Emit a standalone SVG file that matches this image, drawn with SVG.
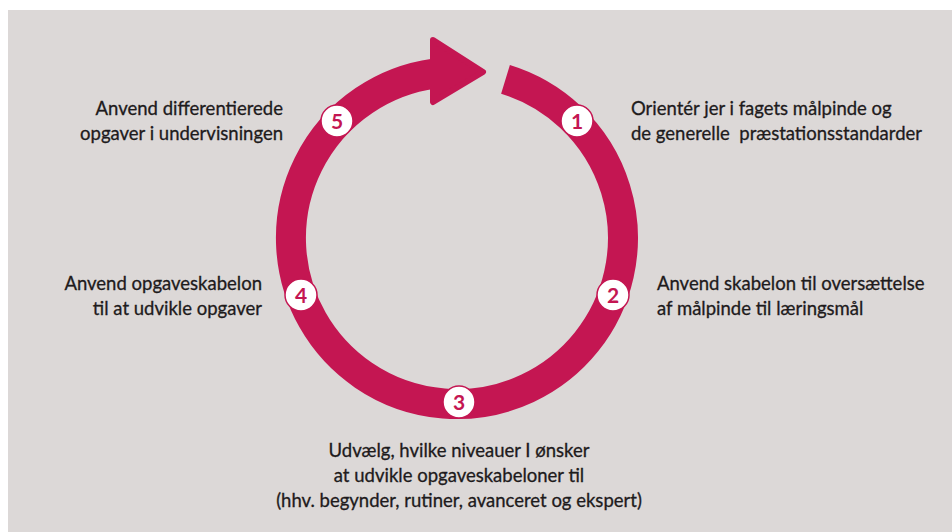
<svg xmlns="http://www.w3.org/2000/svg" width="952" height="532" viewBox="0 0 952 532">
<style>
.lbl{font-family:Lato,"Open Sans","Liberation Sans",sans-serif;font-size:18.5px;fill:#1e1b1c;stroke:#1e1b1c;stroke-width:0.3}
.num{font-family:Lato,"Open Sans","Liberation Sans",sans-serif;font-size:21px;font-weight:bold;fill:#c41652;text-anchor:middle}
.dot{fill:#ffffff;stroke:#c41652;stroke-width:1.5}
</style>
<rect x="0" y="0" width="952" height="532" fill="#ffffff"/>
<rect x="8" y="10" width="944" height="522" fill="#dcd8d7"/>
<g id="connectors">
<path d="M 505.5 79.3 A 166 166 0 1 1 434.2 73.6" fill="none" stroke="#c41652" stroke-width="30"/>
<polygon points="433,40 483,72 433,102" fill="#c41652" stroke="#c41652" stroke-width="6" stroke-linejoin="round"/>
</g>
<g id="step1">
<circle class="dot" cx="577" cy="121" r="16"/>
<text class="num" x="577" y="128.5">1</text>
<text class="lbl" x="631" y="115">Orientér jer i fagets målpinde og</text>
<text class="lbl" x="631" y="140" xml:space="preserve">de generelle  præstationsstandarder</text>
</g>
<g id="step2">
<circle class="dot" cx="613" cy="295" r="16"/>
<text class="num" x="613" y="302.5">2</text>
<text class="lbl" x="657" y="290">Anvend skabelon til oversættelse</text>
<text class="lbl" x="657" y="315">af målpinde til læringsmål</text>
</g>
<g id="step3">
<circle class="dot" cx="459" cy="402" r="16"/>
<text class="num" x="459" y="409.5">3</text>
<text class="lbl" x="459" y="457" text-anchor="middle">Udvælg, hvilke niveauer I ønsker</text>
<text class="lbl" x="459" y="482" text-anchor="middle">at udvikle opgaveskabeloner til</text>
<text class="lbl" x="459" y="507" text-anchor="middle">(hhv. begynder, rutiner, avanceret og ekspert)</text>
</g>
<g id="step4">
<circle class="dot" cx="301" cy="295" r="16"/>
<text class="num" x="301" y="302.5">4</text>
<text class="lbl" x="262" y="290" text-anchor="end">Anvend opgaveskabelon</text>
<text class="lbl" x="262" y="315" text-anchor="end">til at udvikle opgaver</text>
</g>
<g id="step5">
<circle class="dot" cx="337" cy="121" r="16"/>
<text class="num" x="337" y="128.5">5</text>
<text class="lbl" x="283" y="115" text-anchor="end">Anvend differentierede</text>
<text class="lbl" x="283" y="140" text-anchor="end">opgaver i undervisningen</text>
</g>
</svg>
